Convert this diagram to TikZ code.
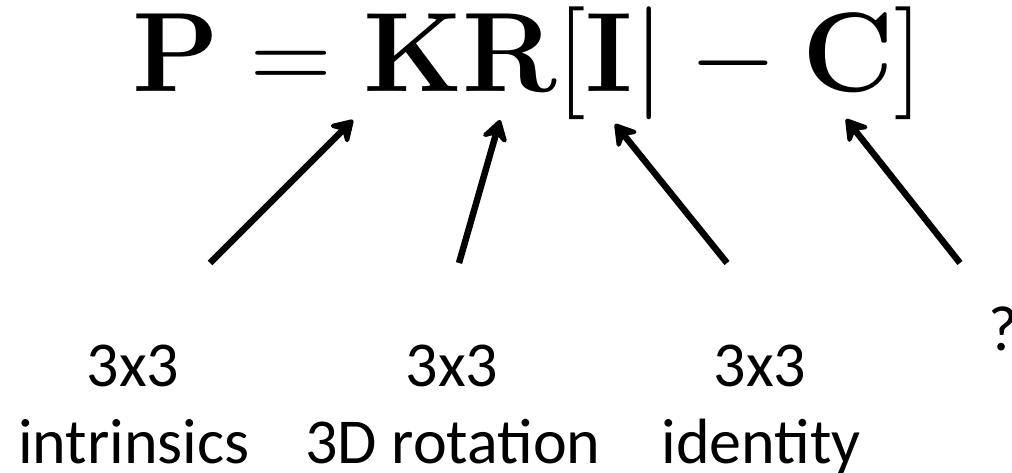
\RequirePackage{fix-cm}
\documentclass[tikz,border=0pt]{standalone}
\usepackage[no-math]{fontspec}
\newfontfamily\calib{Carlito}
\usetikzlibrary{arrows.meta}
\begin{document}
\begin{tikzpicture}[x=1pt,y=-1pt,
  lbl/.style={font=\calib\fontsize{64}{77}\selectfont, inner sep=0pt, align=center},
  ptr/.style={line width=6.5pt, -{Stealth[length=26pt,width=32pt,inset=9pt,round]}}]
\useasboundingbox[fill=white] (0,0) rectangle (1012,473);
\node[anchor=base west, inner sep=0pt, font=\fontsize{113}{118}\selectfont] (eq) at (132,92)
  {$\mathbf{P}=\mathbf{KR}[\mathbf{I}|-\mathbf{C}]$};
\node[lbl, anchor=base] (k3) at (133,386) {3x3};
\node[lbl, anchor=base] (k) at (134,463) {intrinsics};
\node[lbl, anchor=base] (r3) at (452,386) {3x3};
\node[lbl, anchor=base] (r) at (453,463) {3D rotation};
\node[lbl, anchor=base] (i3) at (760,386) {3x3};
\node[lbl, anchor=base] (i) at (761,463) {identity};
\node[lbl, anchor=base west] (q) at (988,350) {?};
\coordinate (t1) at (210,263); \coordinate (h1) at (353,120);
\coordinate (t2) at (459,263); \coordinate (h2) at (500,120);
\coordinate (t3) at (727,263); \coordinate (h3) at (615,124);
\coordinate (t4) at (960,263); \coordinate (h4) at (846,119);
\draw[ptr] (t1) -- (h1);
\draw[ptr] (t2) -- (h2);
\draw[ptr] (t3) -- (h3);
\draw[ptr] (t4) -- (h4);
\end{tikzpicture}
\end{document}
